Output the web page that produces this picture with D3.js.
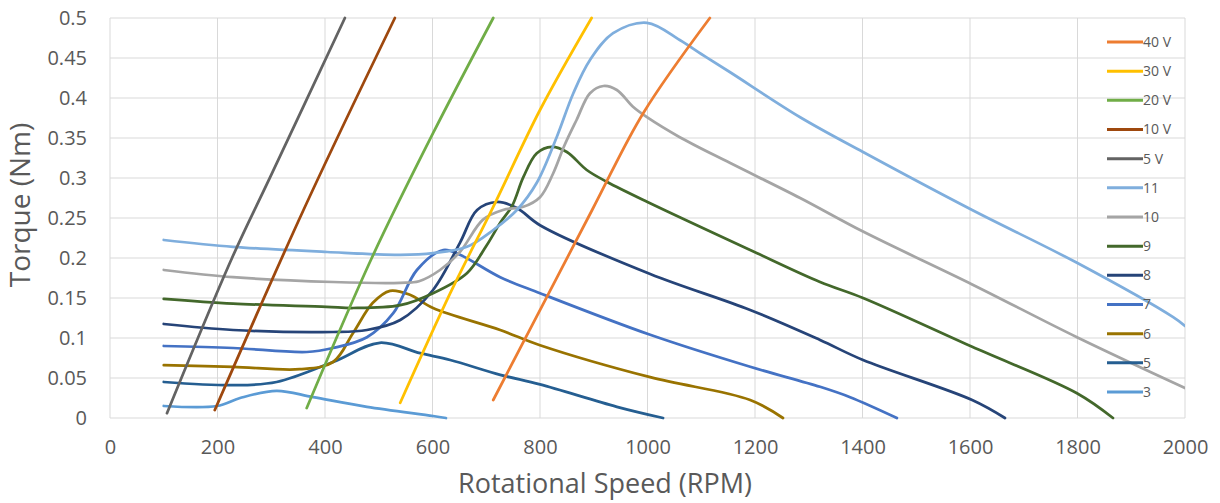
<!DOCTYPE html>
<html>
<head>
<meta charset="utf-8">
<script src="https://cdn.jsdelivr.net/npm/d3@7/dist/d3.min.js"></script>
<style>
  body { margin: 0; background: #fff; }
  svg text { font-family: "Open Sans", sans-serif; fill: #595959; }
</style>
</head>
<body>
<svg id="chart" width="1220" height="503"></svg>
<script>
// ticks
const xTicks = [0, 200, 400, 600, 800, 1000, 1200, 1400, 1600, 1800, 2000];
const yTicks = [0, 0.05, 0.1, 0.15, 0.2, 0.25, 0.3, 0.35, 0.4, 0.45, 0.5];

// legend order (top to bottom)
const seriesNames = ["40 V", "30 V", "20 V", "10 V", "5 V", "11", "10", "9", "8", "7", "6", "5", "3"];
const seriesColors = ["#ED7D31", "#FFC000", "#70AD47", "#9E480E", "#636363", "#7FAEDD", "#A5A5A5",
                      "#43682B", "#264478", "#4472C4", "#997300", "#255E91", "#5B9BD5"];

// [rpm, torque]
const line40V = [[713, 0.0225], [897, 0.26], [992, 0.381], [1116, 0.5]];
const line30V = [[540, 0.019], [633, 0.156], [713, 0.264], [800, 0.385], [896, 0.5]];
const line20V = [[366, 0.0125], [487, 0.2], [601, 0.356], [713, 0.5]];
const line10V = [[195, 0.01], [360, 0.26], [530, 0.5]];
const line5V  = [[106, 0.006], [227, 0.2], [298, 0.301], [437, 0.5]];

const curve11 = [[100, 0.2225], [229, 0.214], [404, 0.2075], [540, 0.204], [601, 0.206], [664, 0.214], [713, 0.235],
                 [757, 0.26], [794, 0.294], [831, 0.351], [862, 0.406], [893, 0.4475], [936, 0.481], [999, 0.494],
                 [1060, 0.4725], [1100, 0.455], [1153, 0.4325], [1284, 0.376], [1401, 0.3325],
                 [1604, 0.26], [1799, 0.194], [1978, 0.126], [2000, 0.115]];
const curve10 = [[100, 0.185], [229, 0.176], [415, 0.17], [540, 0.169], [575, 0.171], [614, 0.185], [651, 0.2075],
                 [694, 0.248], [731, 0.26], [769, 0.264], [800, 0.276], [824, 0.305], [845, 0.34], [868, 0.3725],
                 [893, 0.406], [918, 0.415], [943, 0.41], [973, 0.389], [999, 0.376], [1060, 0.351], [1153, 0.319],
                 [1284, 0.275], [1401, 0.233], [1604, 0.167], [1799, 0.101], [2000, 0.0375]];
const curve9  = [[100, 0.149], [229, 0.143], [403, 0.139], [452, 0.1375], [540, 0.141], [601, 0.156], [664, 0.181],
                 [700, 0.215], [726, 0.244], [748, 0.265], [769, 0.301], [794, 0.331], [822, 0.339], [850, 0.3325],
                 [887, 0.31], [925, 0.295], [1000, 0.27], [1191, 0.21], [1321, 0.17], [1401, 0.15], [1604, 0.089],
                 [1799, 0.031], [1866, 0]];
const curve8  = [[100, 0.1175], [229, 0.11], [415, 0.1075], [478, 0.11], [540, 0.1225], [601, 0.16], [651, 0.219],
                 [683, 0.26], [720, 0.27], [757, 0.2625], [800, 0.241], [1005, 0.18], [1191, 0.135], [1321, 0.0975],
                 [1401, 0.0725], [1604, 0.0225], [1665, 0]];
const curve7  = [[100, 0.09], [229, 0.0875], [366, 0.0825], [415, 0.0875], [478, 0.101], [527, 0.131], [571, 0.185],
                 [620, 0.21], [651, 0.204], [726, 0.176], [800, 0.156], [1005, 0.104], [1191, 0.064], [1321, 0.039],
                 [1377, 0.026], [1464, 0]];
const curve6  = [[100, 0.066], [229, 0.064], [353, 0.061], [415, 0.07], [452, 0.106], [489, 0.144], [521, 0.159],
                 [558, 0.154], [601, 0.1375], [726, 0.11], [800, 0.091], [1005, 0.051], [1191, 0.0225], [1252, 0]];
const curve5  = [[100, 0.045], [229, 0.041], [310, 0.045], [415, 0.07], [502, 0.094], [577, 0.081], [633, 0.0725],
                 [726, 0.054], [800, 0.042], [943, 0.014], [1029, 0]];
const curve3  = [[100, 0.015], [199, 0.015], [242, 0.025], [310, 0.034], [378, 0.026], [478, 0.014], [601, 0.0025],
                 [625, 0]];

const seriesData = [line40V, line30V, line20V, line10V, line5V, curve11, curve10, curve9, curve8, curve7, curve6, curve5, curve3];

const svg = d3.select("#chart");
const margin = {left: 110, right: 35, top: 18, bottom: 85};
const W = 1220, H = 503;

const x = d3.scaleLinear().domain([0, 2000]).range([margin.left, W - margin.right]);
const y = d3.scaleLinear().domain([0, 0.5]).range([H - margin.bottom, margin.top]);

// gridlines
svg.append("g")
    .selectAll("line")
    .data(yTicks)
    .enter().append("line")
    .attr("x1", x(0)).attr("x2", x(2000))
    .attr("y1", d => y(d)).attr("y2", d => y(d))
    .attr("stroke", "#d9d9d9").attr("stroke-width", 1);
svg.append("g")
    .selectAll("line")
    .data(xTicks)
    .enter().append("line")
    .attr("x1", d => x(d)).attr("x2", d => x(d))
    .attr("y1", y(0)).attr("y2", y(0.5))
    .attr("stroke", "#d9d9d9").attr("stroke-width", 1);

// axes (labels only, Excel style)
const xAxis = svg.append("g")
    .attr("transform", `translate(0,${y(0)})`)
    .call(d3.axisBottom(x).tickValues(xTicks).tickSize(0).tickPadding(22).tickFormat(d3.format("d")));
const yAxis = svg.append("g")
    .attr("transform", `translate(${x(0)},0)`)
    .call(d3.axisLeft(y).tickValues(yTicks).tickSize(0).tickPadding(23).tickFormat(d3.format("")));
[xAxis, yAxis].forEach(a => {
    a.select(".domain").remove();
    a.selectAll("text").attr("font-size", 20).attr("font-family", "Open Sans").attr("fill", "#595959");
});

// axis titles
svg.append("text")
    .attr("x", 605).attr("y", 493)
    .attr("text-anchor", "middle")
    .attr("font-size", 27)
    .text("Rotational Speed (RPM)");
svg.append("text")
    .attr("transform", `translate(30,205) rotate(-90)`)
    .attr("text-anchor", "middle")
    .attr("font-size", 28)
    .text("Torque (Nm)");

// clip to plot
svg.append("clipPath").attr("id", "plot")
    .append("rect")
    .attr("x", x(0)).attr("y", y(0.5) - 2)
    .attr("width", x(2000) - x(0)).attr("height", y(0) - y(0.5) + 4);

const line = d3.line()
    .x(d => x(d[0]))
    .y(d => y(d[1]))
    .curve(d3.curveCatmullRom.alpha(0.5));

// Excel draws series in reverse legend order
const order = d3.range(seriesNames.length).reverse();
svg.append("g")
    .attr("clip-path", "url(#plot)")
    .selectAll("path")
    .data(order)
    .enter().append("path")
    .attr("d", i => line(seriesData[i]))
    .attr("fill", "none")
    .attr("stroke", i => seriesColors[i])
    .attr("stroke-width", 2.75)
    .attr("stroke-linecap", "round");

// legend
const legend = svg.append("g")
    .selectAll("g")
    .data(seriesNames)
    .enter().append("g")
    .attr("transform", (d, i) => `translate(1107,${42 + i * 29.17})`);
legend.append("line")
    .attr("x1", 0).attr("x2", 36)
    .attr("stroke", (d, i) => seriesColors[i])
    .attr("stroke-width", 3);
legend.append("text")
    .attr("x", 36).attr("dy", "0.35em")
    .attr("font-size", 14)
    .text(d => d);
</script>
</body>
</html>
